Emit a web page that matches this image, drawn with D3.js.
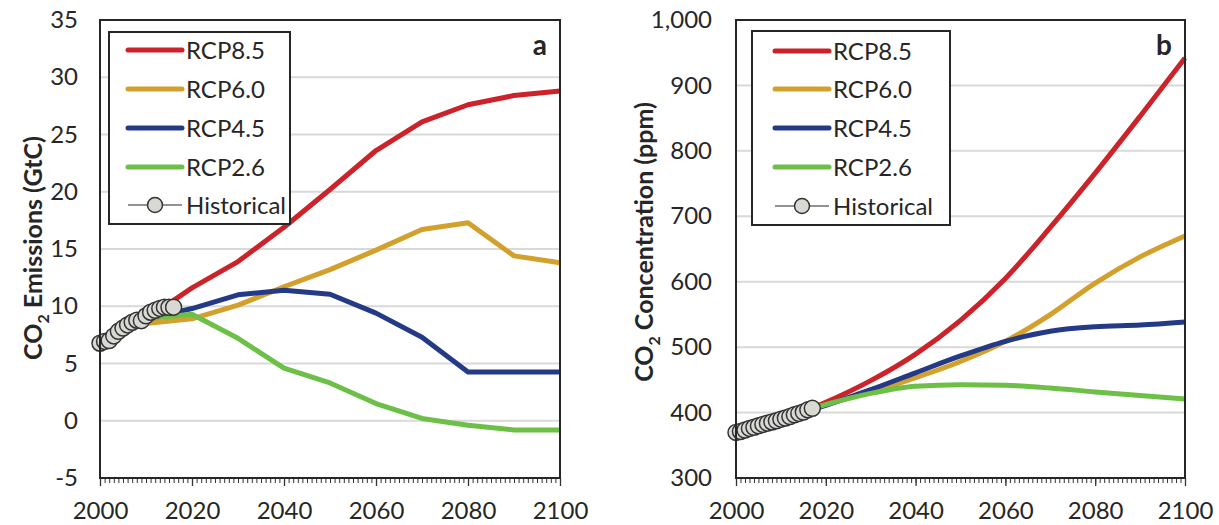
<!DOCTYPE html>
<html><head><meta charset="utf-8">
<script src="https://cdn.jsdelivr.net/npm/d3@7"></script>
<style>body{margin:0;background:#fff}svg{display:block}text{font-family:Lato,"Open Sans",sans-serif;fill:#262626}</style>
</head><body><svg id="c" width="1219" height="525"></svg>
<script>
// ---- data ----
const years = [2000,2005,2010,2020,2030,2040,2050,2060,2070,2080,2090,2100];
const emisRCP85 = [6.74,7.97,8.88,11.6,13.9,16.9,20.2,23.6,26.1,27.6,28.4,28.8];
const emisRCP60 = [6.74,7.97,8.5,8.9,10.1,11.7,13.2,14.9,16.7,17.3,14.4,13.8];
const emisRCP45 = [6.74,7.97,8.88,9.8,11.0,11.4,11.05,9.4,7.3,4.25,4.25,4.25];
const emisRCP26 = [6.74,7.97,8.9,9.3,7.2,4.6,3.3,1.5,0.2,-0.4,-0.8,-0.8];
const histYearsE = [2000,2001,2002,2003,2004,2005,2006,2007,2008,2009,2010,2011,2012,2013,2014,2015,2016];
const histEmis = [6.77,6.93,7.0,7.41,7.81,8.09,8.37,8.6,8.78,8.74,9.17,9.48,9.64,9.81,9.92,9.91,9.92];
const concRCP85 = [368.9,379.8,389.3,415.8,448.8,489.4,541,605,683,766,853,942];
const concRCP60 = [368.9,379.8,389.1,412.1,430.8,453.3,478.1,508.9,549.8,597.9,638,670];
const concRCP45 = [368.9,379.8,389.1,411.1,435.0,460.8,486.5,508.9,524.3,531.1,533.7,538.4];
const concRCP26 = [368.9,379.8,389.3,412.1,429.3,440.2,442.7,441.7,437.5,431.6,426.0,420.9];
const histYearsC = [2000,2001,2002,2003,2004,2005,2006,2007,2008,2009,2010,2011,2012,2013,2014,2015,2016,2017];
const histConc = [369.7,371.1,373.3,375.8,377.5,379.8,381.9,383.8,385.6,387.4,389.9,391.7,393.9,396.5,398.7,400.8,404.2,406.5];
const xTicks = [2000,2020,2040,2060,2080,2100];
const yTicksE = [-5,0,5,10,15,20,25,30,35];
const yTicksC = [300,400,500,600,700,800,900,1000];
const seriesNames = ["RCP8.5","RCP6.0","RCP4.5","RCP2.6"];
const colors = ["#cc2229","#d4a02c","#243a86","#6cbf47"];

const svg = d3.select("#c");

function panel(opt){
  const g = svg.append("g");
  const x = d3.scaleLinear().domain([2000,2100]).range([opt.x0,opt.x1]);
  const y = d3.scaleLinear().domain(opt.yDomain).range([478,20]);
  // gridlines
  g.append("g").selectAll("line").data(opt.yTicks).join("line")
    .attr("x1",opt.x0).attr("x2",opt.x1).attr("y1",d=>y(d)).attr("y2",d=>y(d))
    .attr("stroke","#d9d9d9").attr("stroke-width",2);
  // minor ticks
  const minor = d3.axisBottom(x).tickValues(d3.range(2000,2101,1)).tickSize(5).tickFormat("");
  const ga = g.append("g").attr("transform","translate(0,478)").call(minor);
  ga.select(".domain").remove();
  ga.selectAll("line").attr("stroke","#333").attr("stroke-width",1);
  const major = d3.axisBottom(x).tickValues(xTicks).tickSize(8).tickPadding(10).tickFormat(d=>String(d));
  const gm = g.append("g").attr("transform","translate(0,478)").call(major);
  gm.select(".domain").remove();
  gm.selectAll("line").attr("stroke","#333").attr("stroke-width",1.3);
  gm.selectAll("text").attr("font-size",24).attr("fill","#262626").attr("font-family","Lato").attr("dy","0.95em");
  const yAx = d3.axisLeft(y).tickValues(opt.yTicks).tickSize(0).tickPadding(opt.yPad).tickFormat(opt.fmt);
  const gy = g.append("g").attr("transform",`translate(${opt.x0},0)`).call(yAx);
  gy.select(".domain").remove();
  gy.selectAll("text").attr("font-size",24).attr("fill","#262626").attr("font-family","Lato");
  // lines
  const line = d3.line().x((d,i)=>x(years[i])).y(d=>y(d)).curve(opt.curve);
  opt.series.forEach((s,i)=>{
    g.append("path").attr("d",line(s)).attr("fill","none").attr("stroke",colors[i])
      .attr("stroke-width",5).attr("stroke-linejoin","round");
  });
  // historical
  g.append("g").selectAll("circle").data(opt.hist).join("circle")
    .attr("cx",(d,i)=>x(opt.histYears[i])).attr("cy",d=>y(d)).attr("r",8)
    .attr("fill","#d9d9d4").attr("stroke","#333").attr("stroke-width",1.5);
  // frame
  g.append("rect").attr("x",opt.x0).attr("y",20).attr("width",opt.x1-opt.x0).attr("height",458)
    .attr("fill","none").attr("stroke","#262626").attr("stroke-width",2);
  // legend
  const L = opt.legend;
  const lg = g.append("g");
  lg.append("rect").attr("x",L.x).attr("y",L.y).attr("width",L.w).attr("height",L.h)
    .attr("fill","#fff").attr("stroke","#262626").attr("stroke-width",2);
  const rows = seriesNames.concat(["Historical"]);
  rows.forEach((name,i)=>{
    const ry = L.rowY[i];
    if(i<4){
      lg.append("line").attr("x1",L.sx0).attr("x2",L.sx1).attr("y1",ry).attr("y2",ry)
        .attr("stroke",colors[i]).attr("stroke-width",5).attr("stroke-linecap","round");
    } else {
      lg.append("line").attr("x1",L.sx0).attr("x2",L.sx1).attr("y1",ry).attr("y2",ry)
        .attr("stroke","#262626").attr("stroke-width",1.2);
      lg.append("circle").attr("cx",(L.sx0+L.sx1)/2).attr("cy",ry).attr("r",7.5)
        .attr("fill","#d9d9d4").attr("stroke","#333").attr("stroke-width",1.5);
    }
    lg.append("text").attr("x",L.tx).attr("y",ry).attr("dy","0.36em").attr("font-size",24).text(name);
  });
  // panel letter
  g.append("text").attr("x",opt.x1-13).attr("y",55).attr("text-anchor","end")
    .attr("font-size",28).attr("font-weight","bold").attr("fill","#1a1a1a").text(opt.letter);
  // y title
  const t = g.append("text").attr("transform",`translate(${opt.titleX},${opt.titleY}) rotate(-90)`)
    .attr("text-anchor","middle").attr("font-size",25).attr("font-weight","bold").attr("fill","#1a1a1a");
  t.append("tspan").text("CO");
  t.append("tspan").attr("font-size",16).attr("dy",7).text("2");
  t.append("tspan").attr("dy",-7).text(opt.title);
}

panel({x0:100,x1:560,yDomain:[-5,35],yTicks:yTicksE,fmt:d=>String(d),yPad:22,
  series:[emisRCP85,emisRCP60,emisRCP45,emisRCP26],curve:d3.curveLinear,
  hist:histEmis,histYears:histYearsE,
  legend:{x:109,y:32,w:181,h:192,rowY:[50,89,128,167,205],sx0:128,sx1:182,tx:186},
  letter:"a",titleX:42,titleY:248,title:" Emissions (GtC)"});
panel({x0:736,x1:1185,yDomain:[300,1000],yTicks:yTicksC,fmt:d3.format(","),yPad:24,
  series:[concRCP85,concRCP60,concRCP45,concRCP26],curve:d3.curveMonotoneX,
  hist:histConc,histYears:histYearsC,
  legend:{x:752,y:31,w:198,h:194,rowY:[51,89,128,167,206],sx0:775,sx1:829,tx:833},
  letter:"b",titleX:653,titleY:242,title:" Concentration (ppm)"});
</script></body></html>
